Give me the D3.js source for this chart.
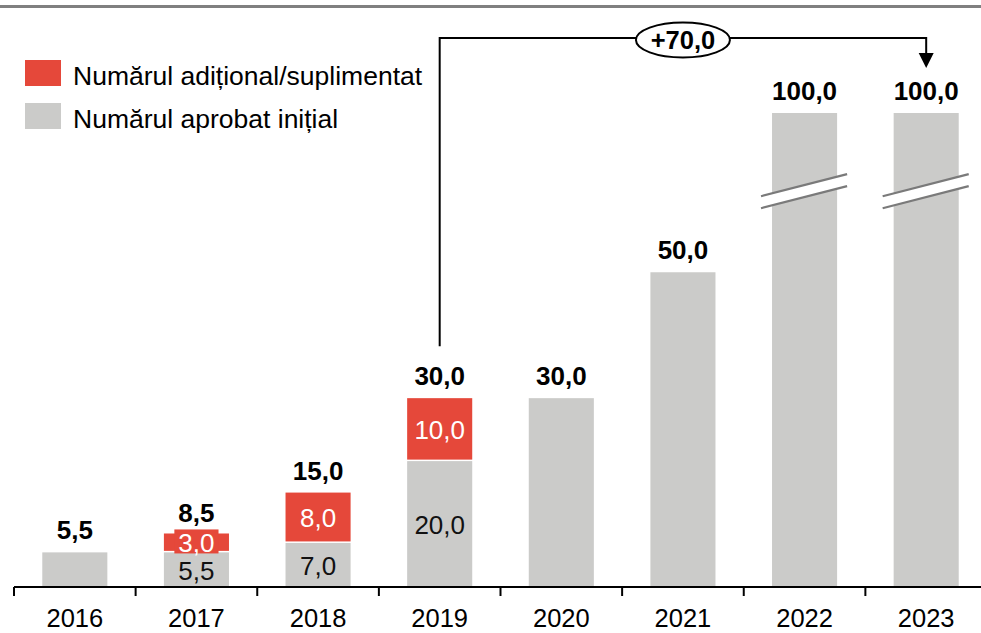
<!DOCTYPE html>
<html>
<head>
<meta charset="utf-8">
<script src="https://cdn.jsdelivr.net/npm/d3@7"></script>
<style>
  html, body { margin: 0; padding: 0; background: #fff; }
  svg { display: block; font-family: "Liberation Sans", Arial, sans-serif; }
</style>
</head>
<body>
<svg id="chart" width="981" height="633"></svg>
<script>
// Years on the x axis
const years = ["2016", "2017", "2018", "2019", "2020", "2021", "2022", "2023"];
// Initially approved number (grey) per year
const initialValues = [5.5, 5.5, 7.0, 20.0, 30.0, 50.0, 100.0, 100.0];
// Additional / supplemented number (red) per year
const additionalValues = [0, 3.0, 8.0, 10.0, 0, 0, 0, 0];
// Legend entries
const legendLabels = ["Numărul adițional/suplimentat", "Numărul aprobat inițial"];
// Increase annotated between 2019 and 2023
const increaseLabel = "+70,0";
const increaseFrom = "2019";
const increaseTo = "2023";

const RED = "#E5483A";
const GREY = "#CBCBC9";

const svg = d3.select("#chart");
const W = 981;

const fmtLocale = d3.formatLocale({ decimal: ",", thousands: ".", grouping: [3], currency: ["", ""] });
const fmt = fmtLocale.format(".1f");

const baseY = 587;
const capValue = 75.3;      // values above this are drawn with a scale break
const breakValue = 62.9;    // where the break marks sit

const x = d3.scaleBand()
  .domain(years)
  .range([14, 987])
  .paddingInner(0.465)
  .paddingOuter(0.2325);

const y = d3.scaleLinear().domain([0, capValue]).range([baseY, 113]);

const rows = years.map((yr, i) => ({
  year: yr,
  initial: initialValues[i],
  additional: additionalValues[i],
  total: initialValues[i] + additionalValues[i]
}));
const shown = v => Math.min(v, capValue);

// top rule
svg.append("line")
  .attr("x1", 0).attr("x2", W).attr("y1", 6.5).attr("y2", 6.5)
  .attr("stroke", "#808080").attr("stroke-width", 3);

// grey segments
svg.append("g").selectAll("rect").data(rows).join("rect")
  .attr("x", d => x(d.year))
  .attr("width", x.bandwidth())
  .attr("y", d => y(shown(d.initial)))
  .attr("height", d => baseY - y(shown(d.initial)))
  .attr("fill", GREY);

// red segments
const stacked = rows.filter(d => d.additional > 0);
svg.append("g").selectAll("rect").data(stacked).join("rect")
  .attr("x", d => x(d.year))
  .attr("width", x.bandwidth())
  .attr("y", d => y(d.total))
  .attr("height", d => y(d.initial) - y(d.total) - 1.5)
  .attr("fill", RED);

// scale break marks on capped bars
const capped = rows.filter(d => d.total > capValue);
const brk = svg.append("g").selectAll("g").data(capped).join("g");
const slope = -0.256;
brk.each(function(d) {
  const g = d3.select(this);
  const x0 = x(d.year) - 11, x1 = x(d.year) + x.bandwidth() + 10;
  const cx = x(d.year) + x.bandwidth() / 2;
  const cy = y(breakValue);
  const yAt = (xx, off) => cy + off + slope * (xx - cx);
  g.append("path")
    .attr("d", `M${x0},${yAt(x0, -6)}L${x1},${yAt(x1, -6)}L${x1},${yAt(x1, 6)}L${x0},${yAt(x0, 6)}Z`)
    .attr("fill", "#fff");
  [-6, 6].forEach(off => {
    g.append("line")
      .attr("x1", x0).attr("y1", yAt(x0, off))
      .attr("x2", x1).attr("y2", yAt(x1, off))
      .attr("stroke", "#7a7a7a").attr("stroke-width", 2.2);
  });
});

// x axis: baseline and ticks at band boundaries
svg.append("line")
  .attr("x1", x.range()[0]).attr("x2", W)
  .attr("y1", baseY).attr("y2", baseY)
  .attr("stroke", "#000").attr("stroke-width", 2);
svg.append("g").selectAll("line").data(years).join("line")
  .attr("x1", d => x(d) - x.step() * x.paddingOuter())
  .attr("x2", d => x(d) - x.step() * x.paddingOuter())
  .attr("y1", baseY).attr("y2", baseY + 9)
  .attr("stroke", "#000").attr("stroke-width", 2);

const axis = d3.axisBottom(x).tickSize(0).tickPadding(0);
const axisG = svg.append("g").attr("transform", `translate(0,${baseY})`).call(axis);
axisG.select(".domain").remove();
axisG.selectAll("text")
  .attr("y", 40).attr("dy", null)
  .attr("font-size", 25.5)
  .attr("font-family", "Liberation Sans, Arial, sans-serif")
  .attr("fill", "#000");

// segment labels inside stacked bars
svg.append("g").selectAll("text").data(stacked).join("text")
  .attr("x", d => x(d.year) + x.bandwidth() / 2)
  .attr("y", d => (y(d.initial) + baseY) / 2 + 10)
  .attr("text-anchor", "middle")
  .attr("font-size", 26)
  .attr("fill", "#111")
  .text(d => fmt(d.initial));

const redLabels = svg.append("g").selectAll("g").data(stacked).join("g");
redLabels.each(function(d) {
  const g = d3.select(this);
  const cx = x(d.year) + x.bandwidth() / 2;
  const cy = (y(d.total) + y(d.initial)) / 2;
  const t = g.append("text")
    .attr("x", cx).attr("y", cy + 9.5)
    .attr("text-anchor", "middle")
    .attr("font-size", 26)
    .attr("fill", "#fff")
    .text(fmt(d.additional));
  const bb = t.node().getBBox();
  const boxH = 24;
  const segH = y(d.initial) - y(d.total);
  if (segH < boxH) {
    g.insert("rect", "text")
      .attr("x", bb.x - 4).attr("width", bb.width + 8)
      .attr("y", cy - boxH / 2 - 1.5).attr("height", boxH)
      .attr("fill", RED);
  }
});

// total labels above bars
svg.append("g").selectAll("text").data(rows).join("text")
  .attr("x", d => x(d.year) + x.bandwidth() / 2)
  .attr("y", d => y(shown(d.total)) - (d.additional > 0 && y(d.initial) - y(d.total) < 24 ? 11 : 13))
  .attr("text-anchor", "middle")
  .attr("font-size", 26)
  .attr("font-weight", "bold")
  .attr("fill", "#000")
  .text(d => fmt(d.total));

// increase bracket
const fromRow = rows.find(d => d.year === increaseFrom);
const xa = x(increaseFrom) + x.bandwidth() / 2;
const xb = x(increaseTo) + x.bandwidth() / 2;
const yTop = 38;
svg.append("path")
  .attr("d", `M${xa},${y(fromRow.total) - 52}V${yTop}H${xb}V${yTop + 16}`)
  .attr("fill", "none").attr("stroke", "#000").attr("stroke-width", 2);
svg.append("path")
  .attr("d", `M${xb - 7.5},${yTop + 15}L${xb + 7.5},${yTop + 15}L${xb},${yTop + 30}Z`)
  .attr("fill", "#000");
const mx = (xa + xb) / 2;
svg.append("ellipse")
  .attr("cx", mx).attr("cy", yTop + 2).attr("rx", 47).attr("ry", 17.5)
  .attr("fill", "#fff").attr("stroke", "#000").attr("stroke-width", 2);
svg.append("text")
  .attr("x", mx).attr("y", yTop + 11)
  .attr("text-anchor", "middle")
  .attr("font-size", 25.5).attr("font-weight", "bold")
  .text(increaseLabel);

// legend
const legendColors = [RED, GREY];
const leg = svg.append("g").selectAll("g").data(legendLabels).join("g")
  .attr("transform", (d, i) => `translate(25,${60 + i * 43})`);
leg.append("rect")
  .attr("width", 36).attr("height", 26)
  .attr("fill", (d, i) => legendColors[i]);
leg.append("text")
  .attr("x", 48).attr("y", 25)
  .attr("font-size", 26.5)
  .attr("fill", "#000")
  .text(d => d);
</script>
</body>
</html>
